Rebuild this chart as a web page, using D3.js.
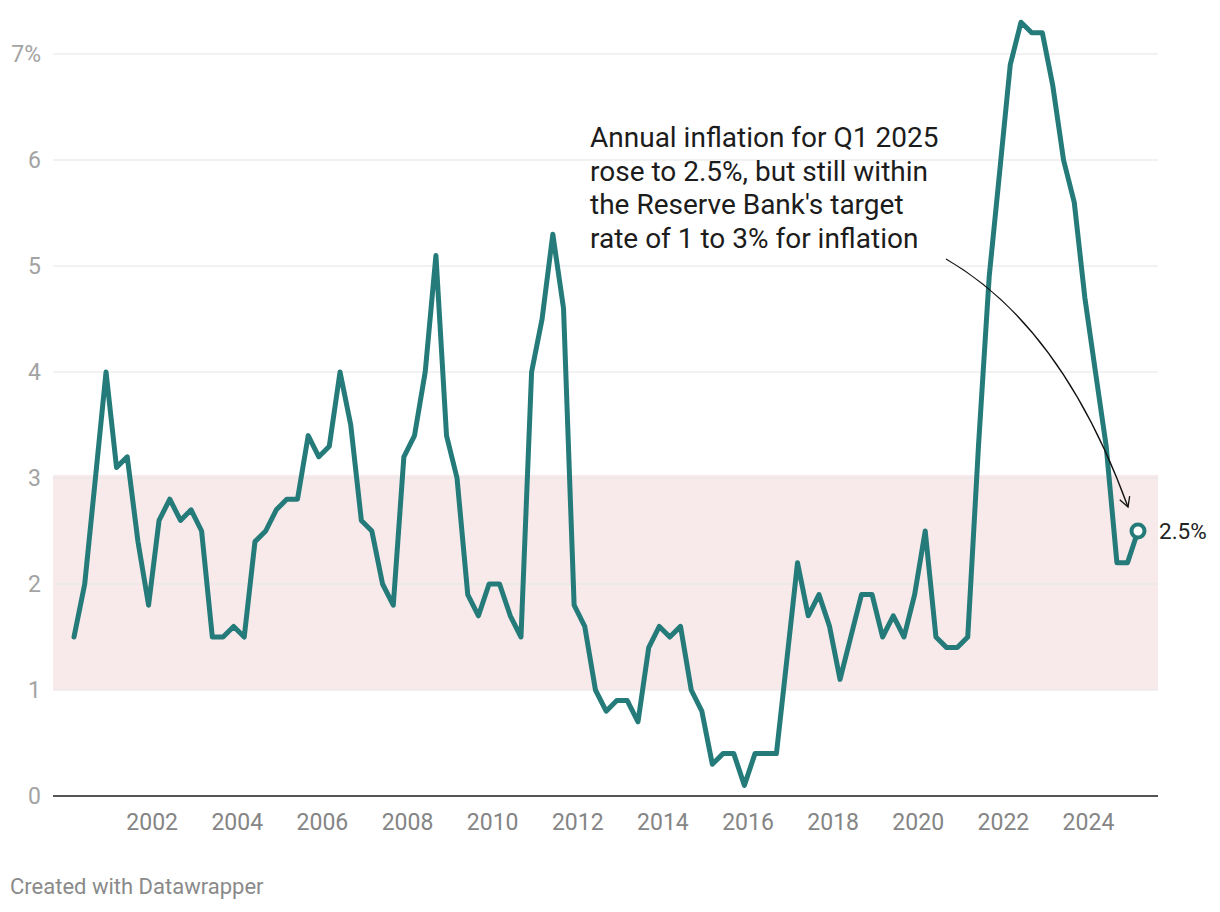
<!DOCTYPE html>
<html>
<head>
<meta charset="utf-8">
<script src="https://cdn.jsdelivr.net/npm/d3@7"></script>
<style>
  html, body { margin: 0; padding: 0; background: #ffffff; }
  svg { display: block; font-family: Roboto, "Noto Sans", sans-serif; }
</style>
</head>
<body>
<svg id="chart" width="1220" height="912"></svg>
<script>
// ---- data ----
const startYear = 2000;
const inflation = [
  1.5, 2.0, 3.0, 4.0,   // 2000
  3.1, 3.2, 2.4, 1.8,   // 2001
  2.6, 2.8, 2.6, 2.7,   // 2002
  2.5, 1.5, 1.5, 1.6,   // 2003
  1.5, 2.4, 2.5, 2.7,   // 2004
  2.8, 2.8, 3.4, 3.2,   // 2005
  3.3, 4.0, 3.5, 2.6,   // 2006
  2.5, 2.0, 1.8, 3.2,   // 2007
  3.4, 4.0, 5.1, 3.4,   // 2008
  3.0, 1.9, 1.7, 2.0,   // 2009
  2.0, 1.7, 1.5, 4.0,   // 2010
  4.5, 5.3, 4.6, 1.8,   // 2011
  1.6, 1.0, 0.8, 0.9,   // 2012
  0.9, 0.7, 1.4, 1.6,   // 2013
  1.5, 1.6, 1.0, 0.8,   // 2014
  0.3, 0.4, 0.4, 0.1,   // 2015
  0.4, 0.4, 0.4, 1.3,   // 2016
  2.2, 1.7, 1.9, 1.6,   // 2017
  1.1, 1.5, 1.9, 1.9,   // 2018
  1.5, 1.7, 1.5, 1.9,   // 2019
  2.5, 1.5, 1.4, 1.4,   // 2020
  1.5, 3.3, 4.9, 5.9,   // 2021
  6.9, 7.3, 7.2, 7.2,   // 2022
  6.7, 6.0, 5.6, 4.7,   // 2023
  4.0, 3.3, 2.2, 2.2,   // 2024
  2.5                   // 2025 Q1
];
const quarters = inflation.map((_, i) => ({ year: startYear + Math.floor(i / 4), q: (i % 4) + 1 }));
const xTickYears = [2002, 2004, 2006, 2008, 2010, 2012, 2014, 2016, 2018, 2020, 2022, 2024];
const yTicks = [0, 1, 2, 3, 4, 5, 6, 7];
const targetBand = [1, 3];
const annotationLines = [
  "Annual inflation for Q1 2025",
  "rose to 2.5%, but still within",
  "the Reserve Bank's target",
  "rate of 1 to 3% for inflation"
];
const lastLabel = "2.5%";
const credit = "Created with Datawrapper";

// ---- layout ----
const svg = d3.select("#chart");
const plotLeft = 53, plotRight = 1158;
const teal = "#247b79";

const dateOf = d => new Date(d.year, d.q * 3 - 1, 1);
const points = quarters.map((d, i) => ({ date: dateOf(d), value: inflation[i] }));

const x = d3.scaleTime()
  .domain([points[0].date, points[points.length - 1].date])
  .range([74, 1138]);
const y = d3.scaleLinear().domain([0, 7]).range([796, 54]);

// target band
svg.append("rect")
  .attr("x", plotLeft)
  .attr("width", plotRight - plotLeft)
  .attr("y", y(targetBand[1]) - 3)
  .attr("height", y(targetBand[0]) - y(targetBand[1]) + 3)
  .attr("fill", "#f8eaeb");

// gridlines
svg.append("g").selectAll("line")
  .data(yTicks.filter(t => t > 0))
  .join("line")
  .attr("x1", plotLeft).attr("x2", plotRight)
  .attr("y1", d => y(d)).attr("y2", d => y(d))
  .attr("stroke", "#e5e5e5").attr("stroke-width", 1.2);

// y labels
svg.append("g").selectAll("text")
  .data(yTicks)
  .join("text")
  .attr("x", 41)
  .attr("y", d => y(d))
  .attr("dy", "0.36em")
  .attr("text-anchor", "end")
  .attr("font-size", 23)
  .attr("fill", "#a3a3a3")
  .text(d => d === 7 ? d + "%" : d);

// baseline
svg.append("line")
  .attr("x1", plotLeft).attr("x2", plotRight)
  .attr("y1", y(0)).attr("y2", y(0))
  .attr("stroke", "#1d1d1d").attr("stroke-width", 1.6);

// x labels
svg.append("g").selectAll("text")
  .data(xTickYears)
  .join("text")
  .attr("x", d => x(new Date(d, 0, 1)))
  .attr("y", 830)
  .attr("text-anchor", "middle")
  .attr("font-size", 23)
  .attr("fill", "#858585")
  .text(d => d);

// line
const line = d3.line().x(d => x(d.date)).y(d => y(d.value));
svg.append("path")
  .datum(points)
  .attr("d", line)
  .attr("fill", "none")
  .attr("stroke", teal)
  .attr("stroke-width", 5)
  .attr("stroke-linejoin", "round")
  .attr("stroke-linecap", "round");

// last point marker
const last = points[points.length - 1];
svg.append("circle")
  .attr("cx", x(last.date)).attr("cy", y(last.value))
  .attr("r", 6.5)
  .attr("fill", "#ffffff")
  .attr("stroke", teal)
  .attr("stroke-width", 4);
svg.append("text")
  .attr("x", x(last.date) + 21)
  .attr("y", y(last.value))
  .attr("dy", "0.36em")
  .attr("font-size", 22.5)
  .attr("fill", "#222")
  .text(lastLabel);

// annotation text
const ann = svg.append("text")
  .attr("x", 590).attr("y", 147)
  .attr("font-size", 28)
  .attr("fill", "#1c1c1c");
annotationLines.forEach((t, i) => {
  ann.append("tspan").attr("x", 590).attr("y", 147 + i * 33.5).text(t);
});

// arrow
const p0 = [946, 259], p1 = [1062, 326], p2 = [1128, 507];
const arrowPath = d3.path();
arrowPath.moveTo(p0[0], p0[1]);
arrowPath.quadraticCurveTo(p1[0], p1[1], p2[0], p2[1]);
svg.append("path")
  .attr("d", arrowPath.toString())
  .attr("fill", "none")
  .attr("stroke", "#111")
  .attr("stroke-width", 1.3);
const ang = Math.atan2(p2[1] - p1[1], p2[0] - p1[0]);
const hl = 11, spread = 0.5;
const head = d3.path();
head.moveTo(p2[0] - hl * Math.cos(ang - spread), p2[1] - hl * Math.sin(ang - spread));
head.lineTo(p2[0], p2[1]);
head.lineTo(p2[0] - hl * Math.cos(ang + spread), p2[1] - hl * Math.sin(ang + spread));
svg.append("path")
  .attr("d", head.toString())
  .attr("fill", "none")
  .attr("stroke", "#111")
  .attr("stroke-width", 1.3);

// credit
svg.append("text")
  .attr("x", 10).attr("y", 894)
  .attr("font-size", 22)
  .attr("fill", "#8a8a8a")
  .text(credit);
</script>
</body>
</html>
